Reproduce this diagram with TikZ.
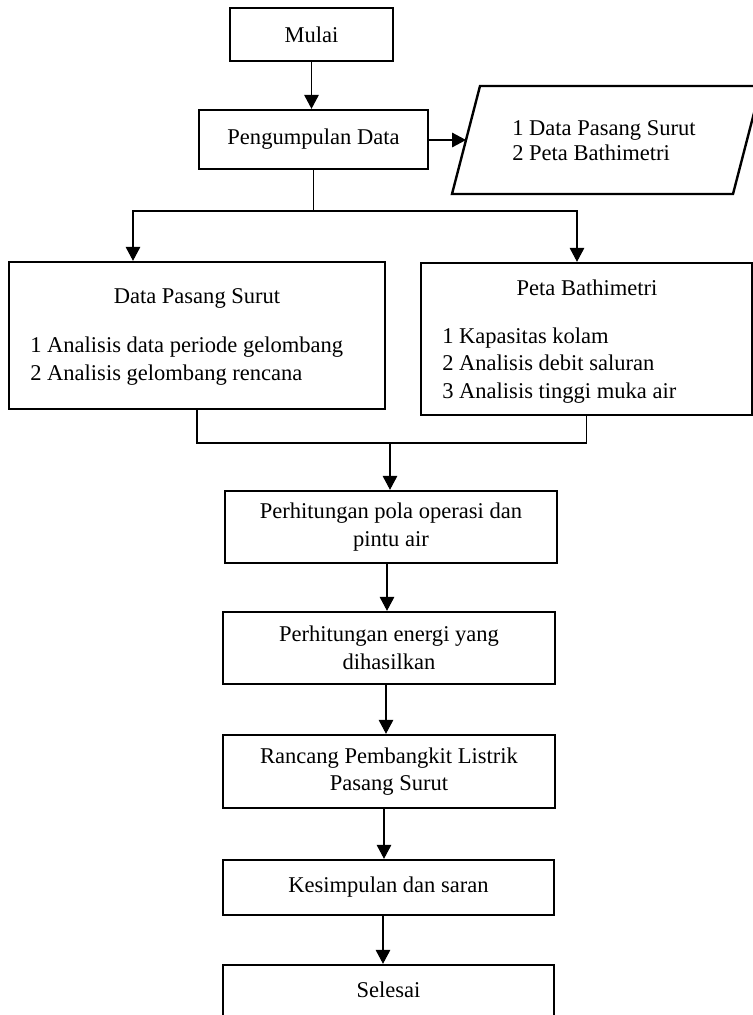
\documentclass[tikz,border=0pt]{standalone}
\usepackage{fontspec}
\setmainfont{Liberation Serif}
\usetikzlibrary{arrows.meta}
\begin{document}
\begin{tikzpicture}[x=0.75pt,y=-0.75pt,
  box/.style={draw, line width=1.8pt, inner sep=0pt, align=center,
    font=\fontsize{16.9}{20.6}\selectfont},
  txt/.style={inner sep=0pt, font=\fontsize{16.9}{20.6}\selectfont},
  conn/.style={line width=0.8pt},
  arr/.style={conn, -{Triangle[length=10.5pt,width=11pt]}}]
\useasboundingbox (0,0) rectangle (753,1015);
% boxes
\node[box, minimum width=122.25pt, minimum height=39.75pt] (mulai) at (311.5,34.5) {Mulai};
\node[box, minimum width=171.75pt, minimum height=44.25pt] (pd) at (313.5,139.5) {Pengumpulan Data};
% parallelogram
\coordinate (pBL) at (452,194);
\coordinate (pBR) at (733,194);
\coordinate (pTR) at (761,86);
\coordinate (pTL) at (480,86);
\draw[line width=1.8pt, line join=miter] (pBL) -- (pBR) -- (pTR) -- (pTL) -- cycle;
\coordinate (paraL) at (466,140);
\node[txt, anchor=west, align=left, font=\fontsize{16.9}{18.75}\selectfont] (parat) at (512,140.5) {1 Data Pasang Surut\\2 Peta Bathimetri};
% left and right boxes
\node[box, minimum width=282pt, minimum height=110.25pt] (dps) at (197,335.5) {};
\node[txt] (dpsh) at (197,298) {Data Pasang Surut};
\node[txt, anchor=west, align=left, font=\fontsize{16.9}{21}\selectfont] (dpsl) at (30,361) {1 Analisis data periode gelombang\\2 Analisis gelombang rencana};
\node[box, minimum width=248.25pt, minimum height=114pt] (pb) at (586.5,339) {};
\node[txt] (pbh) at (587,288) {Peta Bathimetri};
\node[txt, anchor=west, align=left, font=\fontsize{16.9}{20.6}\selectfont] (pbl) at (442,365.5) {1 Kapasitas kolam\\2 Analisis debit saluran\\3 Analisis tinggi muka air};
% lower chain
\node[box, minimum width=249pt, minimum height=54pt] (pola) at (391,527) {Perhitungan pola operasi dan\\pintu air};
\node[box, minimum width=249pt, minimum height=54pt] (energi) at (389,648) {Perhitungan energi yang\\dihasilkan};
\node[box, minimum width=249pt, minimum height=54.75pt] (rancang) at (389,771.5) {Rancang Pembangkit Listrik\\Pasang Surut};
\node[box, minimum width=248.25pt, minimum height=41.25pt] (kes) at (388.5,887.5) {Kesimpulan dan saran};
\node[box, minimum width=248.25pt, minimum height=48.75pt] (sel) at (388.5,997.5) {};
\node[txt] (selt) at (388.5,990) {Selesai};
% connectors
\draw[arr] (mulai.south) -- (mulai.south |- pd.north);
\draw[arr] (pd.east |- paraL) -- (paraL);
\coordinate (bl) at (133,211);
\coordinate (brr) at (577,211);
\draw[arr] (pd.south) |- (bl) -- (bl |- dps.north);
\draw[arr] (pd.south) |- (brr) -- (brr |- pb.north);
\coordinate (mg) at (390,443);
\draw[conn] (dps.south) |- (mg);
\draw[conn] (pb.south) |- (mg);
\draw[arr] (mg) -- (mg |- pola.north);
\coordinate (a1) at (387,0);
\draw[arr] (a1 |- pola.south) -- (a1 |- energi.north);
\coordinate (a2) at (386,0);
\draw[arr] (a2 |- energi.south) -- (a2 |- rancang.north);
\coordinate (a3) at (384,0);
\draw[arr] (a3 |- rancang.south) -- (a3 |- kes.north);
\coordinate (a4) at (383,0);
\draw[arr] (a4 |- kes.south) -- (a4 |- sel.north);
\end{tikzpicture}
\end{document}
